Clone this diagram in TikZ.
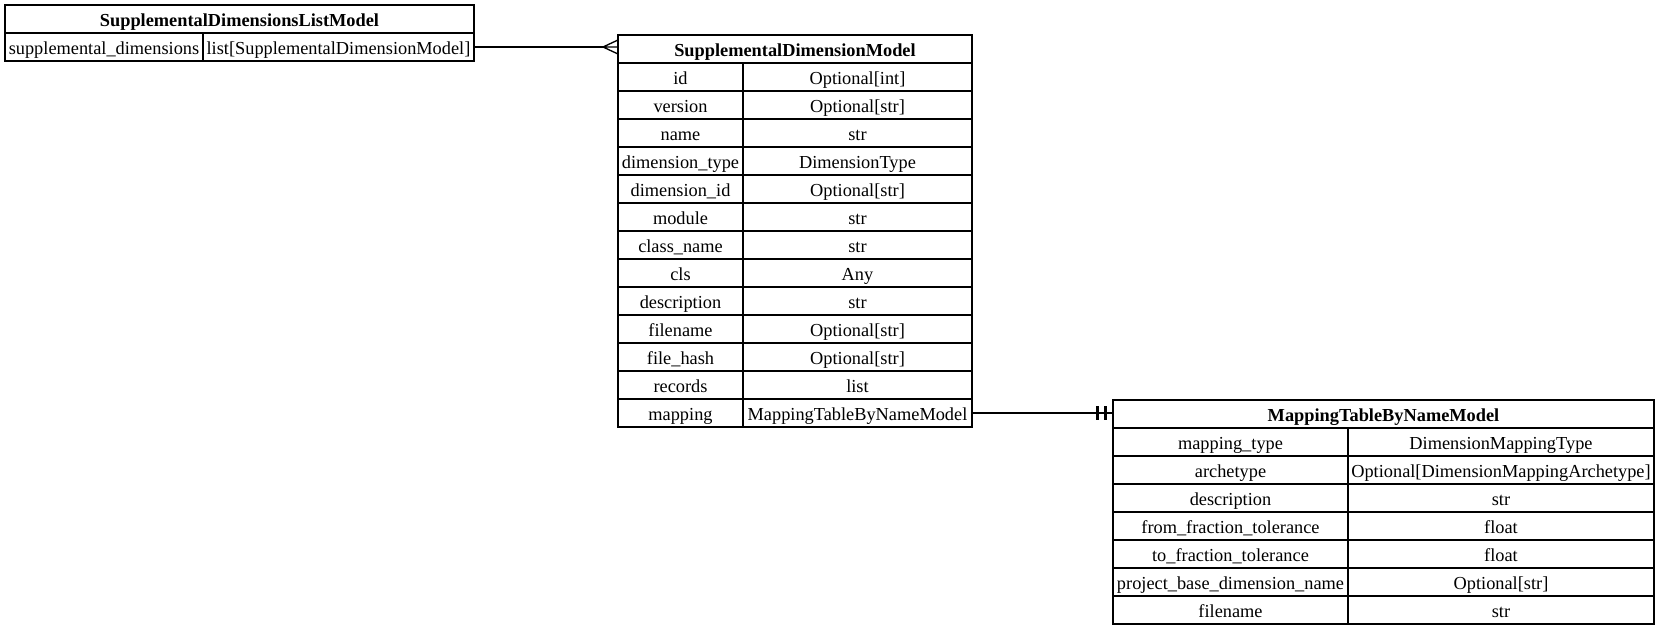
\documentclass[tikz,border=0pt]{standalone}
\usepackage{fontspec}
\setmainfont{Liberation Serif}
\usetikzlibrary{positioning}
\begin{document}
\begin{tikzpicture}[node distance=0pt, thick,
	cell/.style = {draw, inner sep=0pt, outer sep=0pt, minimum height=16.8pt, text height=10pt, text depth=1.6pt, font=\fontsize{11}{13}\selectfont},
	head/.style = {cell, anchor=north west, font=\fontsize{11}{13}\selectfont\bfseries},
	lkey/.style = {cell, minimum width=118.8pt}, lval/.style = {cell, minimum width=162.6pt},
	dkey/.style = {cell, minimum width=75pt}, dval/.style = {cell, minimum width=137.4pt},
	mkey/.style = {cell, minimum width=141pt}, mval/.style = {cell, minimum width=183.6pt}]
	\useasboundingbox (0,0) rectangle (995.4pt,-377.4pt);
	% SupplementalDimensionsListModel
	\node[head, minimum width=281.4pt] (L) at (3pt,-3pt) {SupplementalDimensionsListModel};
	\node[lkey] (L1) [below right=0pt and 0pt of L.south west] {supplemental\_dimensions};
	\node[lval] (L1v) [right=of L1] {list[SupplementalDimensionModel]};
	% SupplementalDimensionModel
	\node[head, minimum width=212.4pt] (D) at (370.8pt,-21pt) {SupplementalDimensionModel};
	\node[dkey] (D1) [below right=0pt and 0pt of D.south west] {id};
	\node[dval] (D1v) [right=of D1] {Optional[int]};
	\node[dkey] (D2) [below=of D1] {version};
	\node[dval] (D2v) [right=of D2] {Optional[str]};
	\node[dkey] (D3) [below=of D2] {name};
	\node[dval] (D3v) [right=of D3] {str};
	\node[dkey] (D4) [below=of D3] {dimension\_type};
	\node[dval] (D4v) [right=of D4] {DimensionType};
	\node[dkey] (D5) [below=of D4] {dimension\_id};
	\node[dval] (D5v) [right=of D5] {Optional[str]};
	\node[dkey] (D6) [below=of D5] {module};
	\node[dval] (D6v) [right=of D6] {str};
	\node[dkey] (D7) [below=of D6] {class\_name};
	\node[dval] (D7v) [right=of D7] {str};
	\node[dkey] (D8) [below=of D7] {cls};
	\node[dval] (D8v) [right=of D8] {Any};
	\node[dkey] (D9) [below=of D8] {description};
	\node[dval] (D9v) [right=of D9] {str};
	\node[dkey] (D10) [below=of D9] {filename};
	\node[dval] (D10v) [right=of D10] {Optional[str]};
	\node[dkey] (D11) [below=of D10] {file\_hash};
	\node[dval] (D11v) [right=of D11] {Optional[str]};
	\node[dkey] (D12) [below=of D11] {records};
	\node[dval] (D12v) [right=of D12] {list};
	\node[dkey] (D13) [below=of D12] {mapping};
	\node[dval] (D13v) [right=of D13] {MappingTableByNameModel};
	% MappingTableByNameModel
	\node[head, minimum width=324.6pt] (M) at (667.8pt,-240pt) {MappingTableByNameModel};
	\node[mkey] (M1) [below right=0pt and 0pt of M.south west] {mapping\_type};
	\node[mval] (M1v) [right=of M1] {DimensionMappingType};
	\node[mkey] (M2) [below=of M1] {archetype};
	\node[mval] (M2v) [right=of M2] {Optional[DimensionMappingArchetype]};
	\node[mkey] (M3) [below=of M2] {description};
	\node[mval] (M3v) [right=of M3] {str};
	\node[mkey] (M4) [below=of M3] {from\_fraction\_tolerance};
	\node[mval] (M4v) [right=of M4] {float};
	\node[mkey] (M5) [below=of M4] {to\_fraction\_tolerance};
	\node[mval] (M5v) [right=of M5] {float};
	\node[mkey] (M6) [below=of M5] {project\_base\_dimension\_name};
	\node[mval] (M6v) [right=of M6] {Optional[str]};
	\node[mkey] (M7) [below=of M6] {filename};
	\node[mval] (M7v) [right=of M7] {str};
	% connectors
	\coordinate (cf) at ([xshift=-9pt]L1v.east -| D.west);
	\draw (L1v.east) -- (cf);
	\draw (cf) -- ([yshift=4.2pt]D.west |- cf) (cf) -- (D.west |- cf) (cf) -- ([yshift=-4.2pt]D.west |- cf);
	\coordinate (one) at (D13v.east -| M.west);
	\draw (D13v.east) -- (one);
	\draw[line width=1.8pt] ([xshift=-9.6pt,yshift=4.2pt]one) -- ([xshift=-9.6pt,yshift=-4.2pt]one);
	\draw[line width=1.8pt] ([xshift=-4.8pt,yshift=4.2pt]one) -- ([xshift=-4.8pt,yshift=-4.2pt]one);
\end{tikzpicture}
\end{document}
